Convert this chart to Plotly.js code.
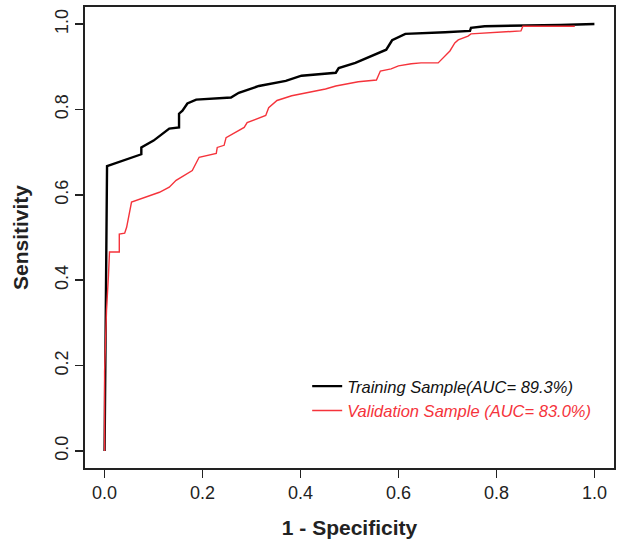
<!DOCTYPE html>
<html>
<head>
<meta charset="utf-8">
<script src="https://cdn.plot.ly/plotly-3.0.1.min.js"></script>
<style>html,body{margin:0;padding:0;background:#fff;}#chart{width:617px;height:544px;}</style>
</head>
<body>
<div id="chart"></div>
<script>
// Training sample ROC curve (1 - specificity, sensitivity)
const trainX = [0, 0.002, 0.005, 0.075, 0.075, 0.10, 0.132, 0.152, 0.152, 0.159, 0.169, 0.187, 0.228, 0.254, 0.258, 0.274, 0.315, 0.370, 0.402, 0.472, 0.478, 0.512, 0.553, 0.575, 0.587, 0.614, 0.695, 0.746, 0.748, 0.776, 0.931, 1.0];
const trainY = [0, 0.30, 0.667, 0.695, 0.711, 0.727, 0.755, 0.758, 0.790, 0.797, 0.814, 0.823, 0.825, 0.828, 0.828, 0.839, 0.855, 0.867, 0.879, 0.886, 0.897, 0.909, 0.930, 0.940, 0.962, 0.977, 0.981, 0.984, 0.991, 0.995, 0.998, 1.0];
// Validation sample ROC curve
const validX = [0, 0, 0.004, 0.006, 0.008, 0.01, 0.03, 0.03, 0.041, 0.045, 0.051, 0.055, 0.112, 0.132, 0.146, 0.179, 0.193, 0.228, 0.230, 0.244, 0.248, 0.285, 0.291, 0.329, 0.335, 0.352, 0.382, 0.411, 0.451, 0.472, 0.518, 0.555, 0.563, 0.585, 0.600, 0.626, 0.646, 0.681, 0.695, 0.705, 0.715, 0.722, 0.742, 0.748, 0.850, 0.854, 0.960];
const validY = [0, 0.186, 0.331, 0.394, 0.413, 0.466, 0.466, 0.508, 0.510, 0.524, 0.564, 0.583, 0.606, 0.618, 0.634, 0.657, 0.688, 0.697, 0.711, 0.716, 0.734, 0.758, 0.769, 0.786, 0.804, 0.821, 0.832, 0.839, 0.848, 0.855, 0.865, 0.869, 0.890, 0.895, 0.902, 0.907, 0.909, 0.909, 0.925, 0.937, 0.956, 0.963, 0.972, 0.977, 0.984, 0.995, 0.995];
const tickVals = [0, 0.2, 0.4, 0.6, 0.8, 1.0];
const tickText = ["0.0", "0.2", "0.4", "0.6", "0.8", "1.0"];
const trainName = "Training Sample(AUC= 89.3%)";
const validName = "Validation Sample (AUC= 83.0%)";

const FONT = "Liberation Sans, Arial, sans-serif";
const RED = "#f5333b";

const traces = [
  {x: trainX, y: trainY, type: "scatter", mode: "lines", name: "<i>" + trainName + "</i>",
   line: {color: "#000", width: 2.4}},
  {x: validX, y: validY, type: "scatter", mode: "lines",
   name: "<span style='color:" + RED + "'><i>" + validName + "</i></span>",
   line: {color: RED, width: 1.4}}
];

const axisCommon = {
  range: [-0.04, 1.04], autorange: false, tickmode: "array",
  tickvals: tickVals, ticktext: tickText,
  showgrid: false, zeroline: false, showline: true, mirror: true,
  linecolor: "#222", linewidth: 1.6,
  ticks: "outside", ticklen: 8, tickwidth: 1.4, tickcolor: "#222",
  tickfont: {family: FONT, size: 18, color: "#222"}
};

const layout = {
  width: 617, height: 544,
  margin: {l: 85, r: 3, t: 7, b: 76},
  paper_bgcolor: "#fff", plot_bgcolor: "#fff",
  font: {family: FONT, color: "#222"},
  xaxis: Object.assign({}, axisCommon, {
    title: {text: "<b>1 - Specificity</b>", font: {family: FONT, size: 21, color: "#222"}, standoff: 18}
  }),
  yaxis: Object.assign({}, axisCommon, {
    tickangle: -90,
    title: {text: "<b>Sensitivity</b>", font: {family: FONT, size: 21, color: "#222"}, standoff: 18}
  }),
  showlegend: true,
  legend: {x: 0.42, y: 0.215, xanchor: "left", yanchor: "top",
    bgcolor: "rgba(0,0,0,0)", borderwidth: 0, itemwidth: 30,
    tracegroupgap: 0,
    font: {family: FONT, size: 16.5, color: "#111"}}
};

Plotly.newPlot("chart", traces, layout, {displayModeBar: false, staticPlot: true});
</script>
</body>
</html>
